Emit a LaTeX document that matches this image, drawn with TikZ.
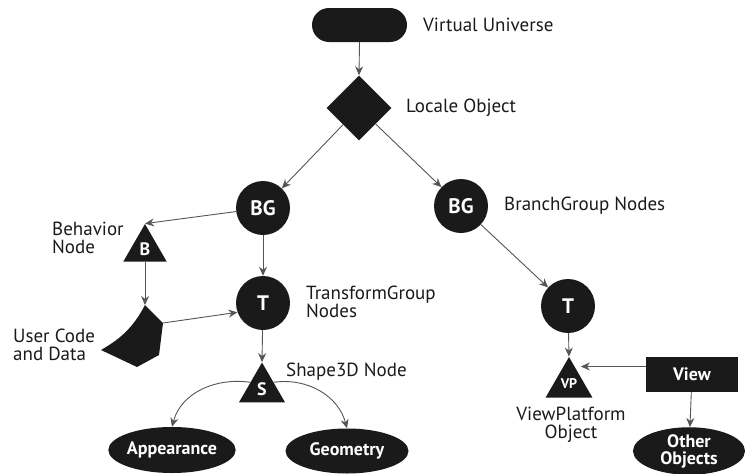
\documentclass[tikz,border=0pt]{standalone}
\usepackage{fontspec}
\setmainfont{PT Sans}
\usetikzlibrary{shapes.geometric,arrows.meta}
\definecolor{ink}{HTML}{1A1A1A}
\definecolor{wire}{HTML}{555555}
\begin{document}
\begin{tikzpicture}[x=1pt,y=-1pt,
  lbl/.style={font=\fontsize{19}{18}\selectfont,text=ink,inner sep=0pt},
  blob/.style={fill=ink,draw=none,text=white,inner sep=0pt,font=\bfseries\fontsize{21}{16}\selectfont},
  circ/.style={blob,circle,minimum size=54pt},
  tri/.style={blob,regular polygon,regular polygon sides=3},
  ell/.style={blob,ellipse,align=center,font=\bfseries\fontsize{18}{17}\selectfont},
  conn/.style={draw=wire,line width=0.9pt,-{Stealth[length=9pt,width=8pt]},shorten >=0pt}
]
\useasboundingbox (0,0) rectangle (745,474);
% shapes
\node[blob,rectangle,rounded corners=17pt,minimum width=95pt,minimum height=34pt] (vu) at (359.5,25) {};
\node[blob,diamond,aspect=1,minimum size=65pt] (loc) at (359,108) {};
\node[circ] (bg1) at (263,208) {BG};
\node[circ] (bg2) at (461,206) {BG};
\node[circ] (t1) at (263,303) {T};
\node[circ] (t2) at (568,306) {T};
\node[tri,minimum size=50pt,font=\bfseries\fontsize{18}{16}\selectfont] (b) at (145,249) {B};
\node[tri,minimum size=53pt,font=\bfseries\fontsize{18}{16}\selectfont] (s) at (262,389) {S};
\node[tri,minimum size=54pt,font=\bfseries\fontsize{14}{12}\selectfont] (vp) at (569,384) {VP};
\node[ell,minimum width=125pt,minimum height=46pt] (app) at (172,450) {Appearance};
\node[ell,minimum width=123pt,minimum height=45pt] (geo) at (347,451) {Geometry};
\node[ell,minimum width=112pt,minimum height=46pt] (oth) at (689,451) {Other\\Objects};
\node[blob,rectangle,minimum width=92pt,minimum height=35pt,font=\bfseries\fontsize{18}{16}\selectfont] (view) at (692,374.5) {View};
% user code and data shape
\coordinate (ucdtop) at (145,305);
\coordinate (ucdright) at (163,323);
\fill[ink] (ucdtop) -- (ucdright) -- (159,355) -- (137,367) -- (101,350)
   .. controls (118,340) and (132,330) .. cycle;
% labels
\node[lbl,anchor=west] (lvu) at (423,25) {Virtual Universe};
\node[lbl,anchor=west] (lloc) at (406,108) {Locale Object};
\node[lbl,anchor=west] (lbg) at (504,206) {BranchGroup Nodes};
\node[lbl,anchor=west,align=left] (lb) at (52,238) {Behavior\\Node};
\node[lbl,anchor=west,align=left] (lt) at (306,302) {TransformGroup\\Nodes};
\node[lbl,anchor=west,align=left] (lucd) at (13,345) {User Code\\and Data};
\node[lbl,anchor=west] (ls) at (286,372) {Shape3D Node};
\node[lbl,align=center] (lvp) at (571,425) {ViewPlatform\\Object};
% connectors
\draw[conn] (vu.south) -- (loc.north);
\draw[conn] (loc) -- (bg1);
\draw[conn] (loc) -- (bg2);
\draw[conn] (bg1) -- (b.corner 1);
\draw[conn] (b.side 2) -- (ucdtop);
\draw[conn] (ucdright) -- (t1.200);
\draw[conn] (bg1) -- (t1);
\draw[conn] (t1) -- (s.corner 1);
\draw[conn] (s.side 1) to[out=172,in=75] (app.north);
\draw[conn] (s.side 3) to[out=8,in=105] (geo.north);
\draw[conn] (bg2) -- (t2);
\draw[conn] (t2) -- (vp.corner 1);
\draw[conn] ([yshift=8pt]view.west) -- ([yshift=8pt]view.west -| vp.side 3);
\draw[conn] (view) -- (oth);
\end{tikzpicture}
\end{document}
